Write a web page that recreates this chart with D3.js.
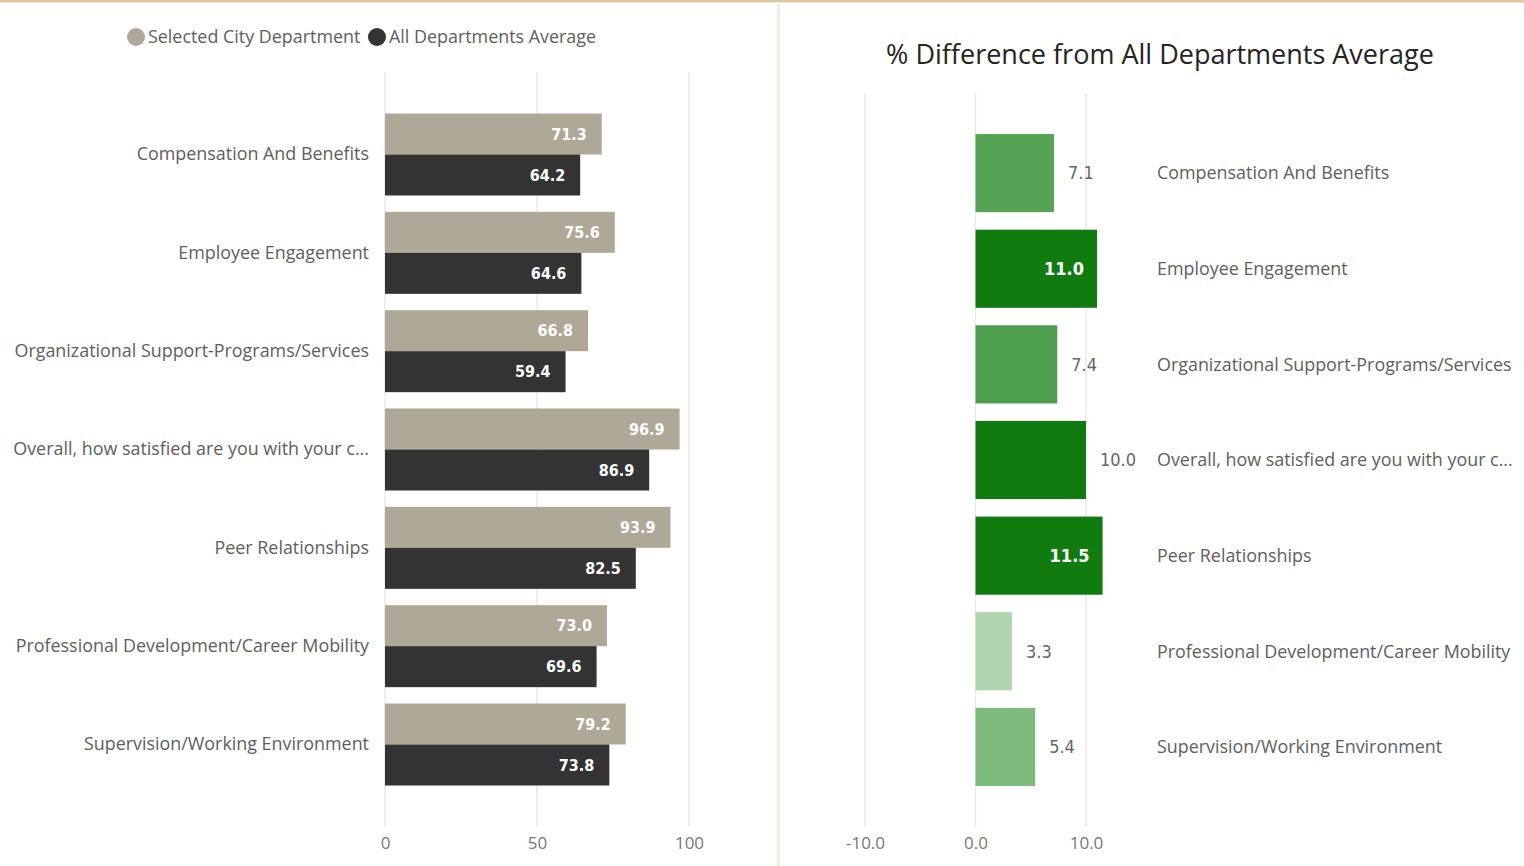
<!DOCTYPE html>
<html>
<head>
<meta charset="utf-8">
<script src="https://cdn.jsdelivr.net/npm/d3@7"></script>
<style>
  body { margin: 0; background: #fff; }
  svg { display: block; }
</style>
</head>
<body>
<div id="chart"></div>
<script>
// data
const categories = [
    'Compensation And Benefits',
    'Employee Engagement',
    'Organizational Support-Programs/Services',
    'Overall, how satisfied are you with your c...',
    'Peer Relationships',
    'Professional Development/Career Mobility',
    'Supervision/Working Environment'
];
const selectedDept = [71.3, 75.6, 66.8, 96.9, 93.9, 73.0, 79.2];
const allDeptAvg = [64.2, 64.6, 59.4, 86.9, 82.5, 69.6, 73.8];
const pctDifference = [7.1, 11.0, 7.4, 10.0, 11.5, 3.3, 5.4];
const leftTicks = [0, 50, 100];
const rightTicks = [-10, 0, 10];
const seriesNames = ['Selected City Department', 'All Departments Average'];

const width = 1524;
const height = 866;
const labelFont = "'Open Sans', 'Noto Sans', sans-serif";
const numFont = "'DejaVu Sans Condensed', 'DejaVu Sans', sans-serif";
const colors = { selected: '#aea897', average: '#333333', text: '#605e5c', grid: '#e9e9e9' };
const fmt1 = d => d3.format('.1f')(d).replace('−', '-'); // power bi uses a plain hyphen

const svg = d3.select('#chart')
    .append('svg')
    .attr('width', width)
    .attr('height', height);

// frame: top rule and divider between the two visuals
svg.append('rect').attr('x', 0).attr('y', 0).attr('width', width).attr('height', 2.5).attr('fill', '#dcc9a0');
svg.append('rect').attr('x', 777).attr('y', 2).attr('width', 3).attr('height', height).attr('fill', '#f4ede0');

// ---------- left visual: clustered bars ----------
const xLeft = d3.scaleLinear().domain([0, 100]).range([385, 689]);
const yLeft = d3.scaleBand()
    .domain(categories)
    .range([72, 827])
    .paddingInner(0.166)
    .paddingOuter(0.422);
const ySub = d3.scaleBand()
    .domain(['selected', 'average'])
    .range([0, yLeft.bandwidth()]);

// gridlines
svg.append('g')
    .selectAll('line')
    .data(leftTicks)
    .join('line')
    .attr('x1', d => xLeft(d)).attr('x2', d => xLeft(d))
    .attr('y1', 72).attr('y2', 827)
    .attr('stroke', colors.grid)
    .attr('stroke-width', 1.5);

// x axis labels
svg.append('g')
    .attr('transform', 'translate(0, 843)')
    .call(d3.axisBottom(xLeft).tickValues(leftTicks).tickSize(0).tickFormat(d3.format('d')))
    .call(g => g.select('.domain').remove())
    .call(g => g.selectAll('text')
        .attr('dy', '0.35em')
        .attr('y', 0)
        .attr('fill', '#777')
        .style('font', `17px ${labelFont}`));

// category labels
svg.append('g')
    .attr('transform', 'translate(369, 0)')
    .call(d3.axisLeft(yLeft).tickSize(0).tickPadding(0))
    .call(g => g.select('.domain').remove())
    .call(g => g.selectAll('text')
        .attr('fill', colors.text)
        .style('font', `17.9px ${labelFont}`));

const leftRows = categories.map((c, i) => ({ cat: c, selected: selectedDept[i], average: allDeptAvg[i] }));

const groups = svg.append('g')
    .selectAll('g')
    .data(leftRows)
    .join('g')
    .attr('transform', d => `translate(0, ${yLeft(d.cat)})`);

groups.selectAll('rect')
    .data(d => ['selected', 'average'].map(k => ({ key: k, value: d[k] })))
    .join('rect')
    .attr('x', xLeft(0))
    .attr('y', d => ySub(d.key))
    .attr('width', d => xLeft(d.value) - xLeft(0))
    .attr('height', ySub.bandwidth())
    .attr('fill', d => colors[d.key]);

groups.selectAll('text')
    .data(d => ['selected', 'average'].map(k => ({ key: k, value: d[k] })))
    .join('text')
    .attr('x', d => xLeft(d.value) - 15)
    .attr('y', d => ySub(d.key) + ySub.bandwidth() / 2)
    .attr('dy', '0.35em')
    .attr('text-anchor', 'end')
    .attr('fill', '#fff')
    .style('font', `bold 16px ${numFont}`)
    .text(d => fmt1(d.value));

// legend
const legend = svg.append('g').attr('transform', 'translate(136, 37)');
const legendX = [0, 241];
seriesNames.forEach((name, i) => {
    const item = legend.append('g').attr('transform', `translate(${legendX[i]}, 0)`);
    item.append('circle').attr('r', 9).attr('fill', i === 0 ? colors.selected : colors.average);
    item.append('text')
        .attr('x', 12)
        .attr('dy', '0.35em')
        .attr('fill', colors.text)
        .style('font', `17.9px ${labelFont}`)
        .text(name);
});

// ---------- right visual: difference bars ----------
const xRight = d3.scaleLinear().domain([-10, 10]).range([865, 1086]);
const yRight = d3.scaleBand()
    .domain(categories)
    .range([93, 827])
    .paddingInner(0.183)
    .paddingOuter(0.429);

// conditional colour: lighter green for small differences
const greenScale = d3.scaleLinear()
    .domain([3.3, 10])
    .range(['#b0d5ae', '#107c10'])
    .clamp(true);

svg.append('text')
    .attr('x', 1160)
    .attr('y', 55)
    .attr('dy', '0.35em')
    .attr('text-anchor', 'middle')
    .attr('fill', '#252423')
    .style('font', `27px ${labelFont}`)
    .text('% Difference from All Departments Average');

svg.append('g')
    .selectAll('line')
    .data(rightTicks)
    .join('line')
    .attr('x1', d => xRight(d)).attr('x2', d => xRight(d))
    .attr('y1', 93).attr('y2', 827)
    .attr('stroke', colors.grid)
    .attr('stroke-width', 1.5);

svg.append('g')
    .attr('transform', 'translate(0, 843)')
    .call(d3.axisBottom(xRight).tickValues(rightTicks).tickSize(0).tickFormat(fmt1))
    .call(g => g.select('.domain').remove())
    .call(g => g.selectAll('text')
        .attr('dy', '0.35em')
        .attr('y', 0)
        .attr('fill', '#777')
        .style('font', `17px ${labelFont}`));

const rightRows = categories.map((c, i) => ({ cat: c, value: pctDifference[i] }));

svg.append('g')
    .selectAll('rect')
    .data(rightRows)
    .join('rect')
    .attr('x', xRight(0))
    .attr('y', d => yRight(d.cat))
    .attr('width', d => xRight(d.value) - xRight(0))
    .attr('height', yRight.bandwidth())
    .attr('fill', d => greenScale(d.value));

// labels go inside only when the bar is wide enough
const inside = d => d.value > 10.5;
svg.append('g')
    .selectAll('text')
    .data(rightRows)
    .join('text')
    .attr('x', d => inside(d) ? xRight(d.value) - 13 : xRight(d.value) + 14)
    .attr('y', d => yRight(d.cat) + yRight.bandwidth() / 2)
    .attr('dy', '0.35em')
    .attr('text-anchor', d => inside(d) ? 'end' : 'start')
    .attr('fill', d => inside(d) ? '#fff' : '#666')
    .style('font', d => `${inside(d) ? 'bold ' : ''}18px ${numFont}`)
    .text(d => fmt1(d.value));

svg.append('g')
    .selectAll('text')
    .data(rightRows)
    .join('text')
    .attr('x', 1157)
    .attr('y', d => yRight(d.cat) + yRight.bandwidth() / 2)
    .attr('dy', '0.35em')
    .attr('fill', colors.text)
    .style('font', `17.9px ${labelFont}`)
    .text(d => d.cat);
</script>
</body>
</html>
